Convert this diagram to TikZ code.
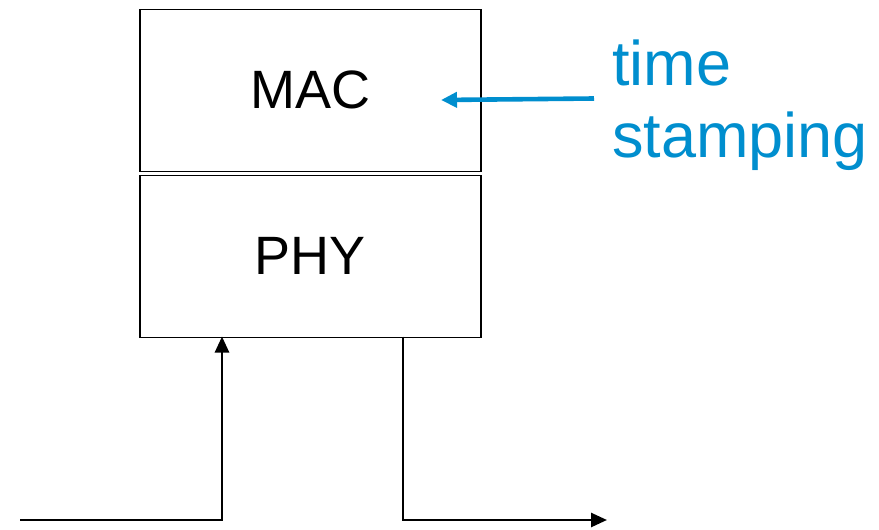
\documentclass[tikz,border=0pt]{standalone}
\usepackage{fontspec}
\setmainfont{Liberation Sans}
\usetikzlibrary{arrows.meta,calc}
\definecolor{tsblue}{RGB}{0,142,206}
\tikzset{
  layer/.style={draw=black, line width=1.6pt, minimum width=341pt, minimum height=162pt, inner sep=0pt, font=\fontsize{54}{60}\selectfont},
  sig/.style={draw=black, line width=2.6pt, -{Triangle[length=16pt,width=14pt]}},
  tsarrow/.style={draw=tsblue, line width=4.6pt, -{Triangle[length=16pt,width=15pt]}}
}
\begin{document}
\begin{tikzpicture}[x=1pt,y=-1pt]
\useasboundingbox (0,0) rectangle (879,530);
\node[layer, anchor=north west] (mac) at (139,8.5) {MAC};
\node[layer, anchor=north west] (phy) at (139,174.5) {PHY};
\node[anchor=north west, align=left, text=tsblue, inner sep=0pt, font=\fontsize{63}{72}\selectfont] (ts) at (612,40) {time\\stamping};
\coordinate (tstail) at (594,98.5);
\coordinate (tstip) at (441,100);
\draw[tsarrow] (tstail) -- (tstip);
\coordinate (inl) at (20,520);
\coordinate (inup) at (222,336.5);
\draw[sig] (inl) -| (inup);
\coordinate (outdn) at (403,336.5);
\coordinate (outr) at (607,520);
\draw[sig] (outdn) |- (outr);
\end{tikzpicture}
\end{document}
